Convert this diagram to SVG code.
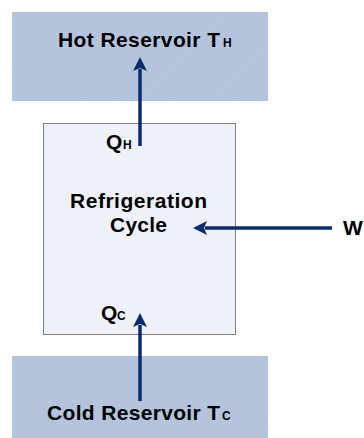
<svg xmlns="http://www.w3.org/2000/svg" width="364" height="438" viewBox="0 0 364 438">
  <style>
    .t { font-family: "Liberation Sans", Arial, sans-serif; font-weight: bold; fill: #000; }
    .big { font-size: 21px; }
    .sub { font-size: 12px; }
    .res { fill: url(#hatch); }
    .box { fill: #eef1f7; stroke: #808080; stroke-width: 1; }
    .arr { stroke: #0c2b6b; stroke-width: 3.5; fill: none; marker-end: url(#head); }
  </style>
  <defs>
    <pattern id="hatch" patternUnits="userSpaceOnUse" width="5" height="5" patternTransform="rotate(45)">
      <rect width="5" height="5" fill="#b3c3dc"/>
      <line x1="0" y1="0" x2="0" y2="5" stroke="#bccbe2" stroke-width="1.2"/>
    </pattern>
    <marker id="head" markerUnits="userSpaceOnUse" markerWidth="16" markerHeight="14" refX="2" refY="7" orient="auto" viewBox="0 0 16 14">
      <path d="M0,0 L14,7 L0,14 L3,7 Z" fill="#0c2b6b"/>
    </marker>
  </defs>

  <g id="hot-reservoir">
    <rect class="res" x="12" y="12" width="256" height="89"/>
    <text class="t big" x="58" y="47" textLength="162" lengthAdjust="spacing">Hot Reservoir T</text>
    <text class="t sub" x="223" y="47">H</text>
  </g>

  <g id="cold-reservoir">
    <rect class="res" x="12" y="356" width="256" height="82"/>
    <text class="t big" x="47" y="420" textLength="173" lengthAdjust="spacing">Cold Reservoir T</text>
    <text class="t sub" x="222" y="420">C</text>
  </g>

  <g id="refrigeration-cycle">
    <rect class="box" x="43.5" y="123.5" width="192" height="211"/>
    <text class="t big" x="70" y="208" textLength="137" lengthAdjust="spacing">Refrigeration</text>
    <text class="t big" x="110" y="232" textLength="57" lengthAdjust="spacing">Cycle</text>
    <text class="t big" x="106" y="149">Q</text>
    <text class="t sub" x="123" y="149">H</text>
    <text class="t big" x="101" y="320">Q</text>
    <text class="t sub" x="117" y="320">C</text>
  </g>

  <g id="work">
    <text class="t big" x="343" y="235">W</text>
  </g>

  <g id="connectors">
    <line class="arr" x1="140" y1="146" x2="140" y2="69"/>
    <line class="arr" x1="140" y1="401" x2="140" y2="325"/>
    <line class="arr" x1="332" y1="228" x2="205" y2="228"/>
  </g>
</svg>
